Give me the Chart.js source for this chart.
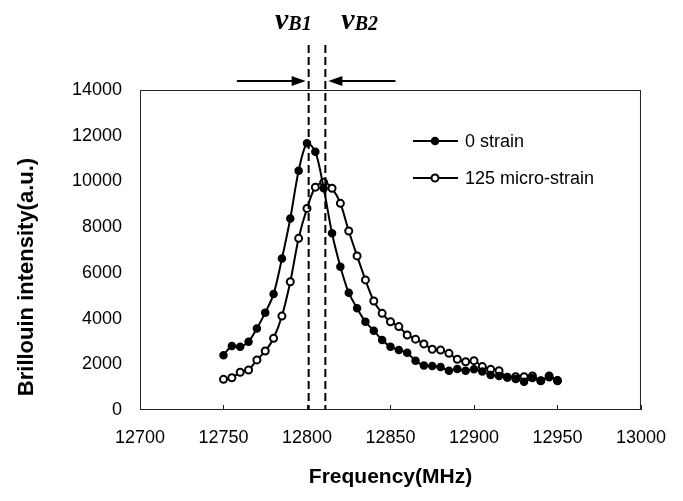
<!DOCTYPE html>
<html><head><meta charset="utf-8">
<script src="https://cdn.jsdelivr.net/npm/chart.js@4.4.1/dist/chart.umd.min.js"></script>
<style>html,body{margin:0;padding:0;background:#fff}</style>
</head><body>
<canvas id="c" width="683" height="501"></canvas>
<script>
// ---- data ----
const frequencies = [12750,12755,12760,12765,12770,12775,12780,12785,12790,12795,
  12800,12805,12810,12815,12820,12825,12830,12835,12840,12845,
  12850,12855,12860,12865,12870,12875,12880,12885,12890,12895,
  12900,12905,12910,12915,12920,12925,12930,12935,12940,12945,12950];
const strain0 = [2400,2800,2770,2990,3570,4260,5070,6630,8380,10470,
  11670,11300,9700,7730,6270,5130,4450,3860,3470,3060,
  2770,2620,2500,2150,1950,1920,1880,1720,1790,1720,
  1780,1680,1530,1490,1430,1360,1240,1400,1280,1430,1300];
const strain125 = [1340,1410,1650,1750,2190,2580,3140,4110,5610,7510,
  8820,9750,9960,9700,9040,7830,6740,5690,4770,4230,
  3860,3650,3280,3100,2890,2660,2620,2480,2220,2110,
  2160,1900,1780,1720,1430,1460,1460,1490,1280,1490,1280];
const seriesLabels = ['0 strain', '125 micro-strain'];
const xTicks = [12700,12750,12800,12850,12900,12950,13000];
const yTicks = [0,2000,4000,6000,8000,10000,12000,14000];
const nuB1 = 12801, nuB2 = 12811;
const arrowStarts = [12758, 12853];
const xTitle = 'Frequency(MHz)';
const yTitle = 'Brillouin intensity(a.u.)';

const SANS = "'Liberation Sans', Arial, sans-serif";
const SERIF = "'Liberation Serif', 'Times New Roman', serif";

const toXY = (xs, ys) => xs.map((x, i) => ({x, y: ys[i]}));

const styles = [
  {fill: '#000', stroke: '#000', bw: 1.5},
  {fill: '#fff', stroke: '#000', bw: 2}
];

const annot = {
  id: 'annot',
  afterDatasetsDraw(chart) {
    const {ctx, chartArea: a, scales: {x, y}} = chart;
    ctx.save();
    // frame
    ctx.strokeStyle = '#222';
    ctx.lineWidth = 1;
    ctx.strokeRect(a.left + 0.5, a.top + 0.5, a.right - a.left - 1, a.bottom - a.top - 1);
    // inward x tick marks
    xTicks.forEach(v => {
      const px = Math.round(x.getPixelForValue(v)) + 0.5;
      ctx.beginPath(); ctx.moveTo(px, a.bottom); ctx.lineTo(px, a.bottom - 5); ctx.stroke();
    });
    // dashed lines
    ctx.setLineDash([8, 4]);
    ctx.lineWidth = 2;
    ctx.strokeStyle = '#000';
    [nuB1, nuB2].forEach(v => {
      const px = x.getPixelForValue(v);
      ctx.beginPath(); ctx.moveTo(px, 45); ctx.lineTo(px, a.bottom); ctx.stroke();
    });
    ctx.setLineDash([]);
    // arrows
    const ay = 81;
    const drawArrow = (fromPx, toPx) => {
      const dir = Math.sign(toPx - fromPx);
      ctx.lineWidth = 2;
      ctx.beginPath(); ctx.moveTo(fromPx, ay); ctx.lineTo(toPx - dir * 10, ay); ctx.stroke();
      ctx.beginPath();
      ctx.moveTo(toPx, ay);
      ctx.lineTo(toPx - dir * 14, ay - 5);
      ctx.lineTo(toPx - dir * 14, ay + 5);
      ctx.closePath(); ctx.fillStyle = '#000'; ctx.fill();
    };
    drawArrow(x.getPixelForValue(arrowStarts[0]), x.getPixelForValue(nuB1) - 3);
    drawArrow(x.getPixelForValue(arrowStarts[1]), x.getPixelForValue(nuB2) + 3);
    // nu labels
    const drawNu = (sub, px, align) => {
      ctx.fillStyle = '#000';
      ctx.textBaseline = 'alphabetic';
      ctx.textAlign = 'left';
      ctx.font = `bold italic 30px ${SERIF}`;
      const w1 = ctx.measureText('\u03BD').width;
      ctx.font = `bold italic 20px ${SERIF}`;
      const w2 = ctx.measureText(sub).width;
      const start = align === 'right' ? px - w1 - w2 : px;
      ctx.font = `bold italic 30px ${SERIF}`;
      ctx.fillText('\u03BD', start, 29);
      ctx.font = `bold italic 20px ${SERIF}`;
      ctx.fillText(sub, start + w1, 30);
    };
    drawNu('B1', x.getPixelForValue(nuB1) + 3, 'right');
    drawNu('B2', x.getPixelForValue(nuB2) + 16, 'left');
    // legend
    const rows = [141, 178];
    seriesLabels.forEach((lab, i) => {
      const ly = rows[i];
      ctx.strokeStyle = '#000'; ctx.lineWidth = 2;
      ctx.beginPath(); ctx.moveTo(413, ly); ctx.lineTo(458, ly); ctx.stroke();
      ctx.beginPath(); ctx.arc(435, ly, 3.5, 0, Math.PI * 2);
      ctx.fillStyle = styles[i].fill; ctx.fill();
      ctx.lineWidth = styles[i].bw; ctx.stroke();
      ctx.fillStyle = '#000';
      ctx.font = `18px ${SANS}`;
      ctx.textAlign = 'left'; ctx.textBaseline = 'middle';
      ctx.fillText(lab, 465, ly + 1);
    });
    // y-axis title
    ctx.translate(27, 277);
    ctx.rotate(-Math.PI / 2);
    ctx.font = `bold 22px ${SANS}`;
    ctx.textAlign = 'center'; ctx.textBaseline = 'middle';
    ctx.fillStyle = '#000';
    ctx.fillText(yTitle, 0, 0);
    ctx.restore();
  }
};

new Chart(document.getElementById('c'), {
  type: 'line',
  data: {
    datasets: [strain0, strain125].map((vals, i) => ({
      label: seriesLabels[i],
      data: toXY(frequencies, vals),
      borderColor: '#000',
      borderWidth: 2,
      pointRadius: 3.5,
      pointBackgroundColor: styles[i].fill,
      pointBorderColor: styles[i].stroke,
      pointBorderWidth: styles[i].bw,
      tension: 0.3,
      fill: false
    }))
  },
  options: {
    responsive: false,
    devicePixelRatio: 1,
    animation: false,
    layout: {padding: {left: 0, top: 90, right: 33, bottom: 0}},
    plugins: {legend: {display: false}, tooltip: {enabled: false}},
    scales: {
      x: {
        type: 'linear', min: 12700, max: 13000,
        afterBuildTicks: s => { s.ticks = xTicks.map(v => ({value: v})); },
        afterFit: s => { s.height = 91; },
        grid: {display: false, drawTicks: false},
        border: {display: false},
        ticks: {font: {family: SANS, size: 18}, color: '#000', padding: 17, maxRotation: 0, callback: v => String(v)},
        title: {display: true, text: xTitle, color: '#000', font: {family: SANS, size: 21, weight: 'bold'}, padding: {top: 0, bottom: 11}}
      },
      y: {
        min: 0, max: 14000,
        afterBuildTicks: s => { s.ticks = yTicks.map(v => ({value: v})); },
        afterFit: s => { s.width = 140; },
        grid: {display: false, drawTicks: false},
        border: {display: false},
        ticks: {font: {family: SANS, size: 18}, color: '#000', padding: 18, callback: v => String(v)},
        title: {display: false}
      }
    }
  },
  plugins: [annot]
});
</script>
</body></html>
